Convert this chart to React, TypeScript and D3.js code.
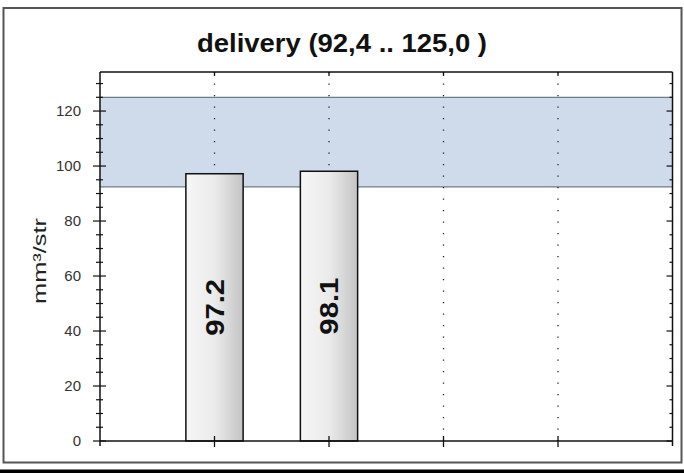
import React from "react";
import * as d3 from "d3";

const categories = [1, 2];
const values = [97.2, 98.1];
const valueLabels = ["97.2", "98.1"];
const bandRange = [92.4, 125.0];
const yTicks = [0, 20, 40, 60, 80, 100, 120];
const titleText = "delivery (92,4 .. 125,0 )";
const yLabel = "mm³/str";
const gridPositions = [1, 2, 3, 4];

export default function App() {
  const W = 684, H = 473;
  const left = 100, right = 672.5, top = 72, bottom = 441;
  const x = d3.scaleLinear().domain([0, 5]).range([left, right]);
  const y = d3.scaleLinear().domain([0, 134.2]).range([bottom, top]);
  const minor = d3.range(0, 135, 5);
  const barW = x(0.5) - x(0);
  const font = "Arial, 'Liberation Sans', sans-serif";

  return (
    <svg width={W} height={H} style={{ position: "absolute", left: 0, top: 0 }}>
      <defs>
        <linearGradient id="barGrad" x1="0" x2="1" y1="0" y2="0">
          <stop offset="0" stopColor="#f6f6f6" />
          <stop offset="0.5" stopColor="#ebebeb" />
          <stop offset="1" stopColor="#c4c4c4" />
        </linearGradient>
      </defs>
      <rect x={0} y={0} width={W} height={H} fill="#fff" />
      <rect x={3.5} y={8} width={678} height={454.5} fill="none" stroke="#555" strokeWidth={2} />
      <rect x={0} y={469.5} width={W} height={4} fill="#000" />
      <text x={342} y={52} textAnchor="middle" fontFamily={font} fontWeight="bold" fontSize={25} textLength={290} lengthAdjust="spacingAndGlyphs" fill="#111">{titleText}</text>

      {/* band */}
      <rect x={left} y={y(bandRange[1])} width={right - left} height={y(bandRange[0]) - y(bandRange[1])} fill="#cfdbeb" />
      <line x1={left} x2={right} y1={y(bandRange[1])} y2={y(bandRange[1])} stroke="#6f7c88" strokeWidth={1.2} />
      <line x1={left} x2={right} y1={y(bandRange[0])} y2={y(bandRange[0])} stroke="#6f7c88" strokeWidth={1.2} />

      {/* grid */}
      {gridPositions.map((g) => (
        <line key={g} x1={x(g)} x2={x(g)} y1={top} y2={bottom} stroke="#222" strokeWidth={1.3} strokeDasharray="1.3,10.2" />
      ))}

      {/* bars */}
      {categories.map((c, i) => (
        <g key={c}>
          <rect x={x(c) - barW / 2} y={y(values[i])} width={barW} height={y(0) - y(values[i])} fill="url(#barGrad)" stroke="#111" strokeWidth={1.5} />
          <text transform={`translate(${x(c) + 9},${(y(values[i]) + y(0)) / 2}) rotate(-90)`} textAnchor="middle" fontFamily={font} fontWeight="bold" fontSize={25} textLength={57} lengthAdjust="spacingAndGlyphs" fill="#111">{valueLabels[i]}</text>
        </g>
      ))}

      {/* frame */}
      <line x1={left} x2={right} y1={top} y2={top} stroke="#111" strokeWidth={1.5} />
      <line x1={right} x2={right} y1={top} y2={bottom + 5} stroke="#111" strokeWidth={1.5} />
      <line x1={left} x2={right} y1={bottom} y2={bottom} stroke="#111" strokeWidth={1.5} />
      <line x1={left} x2={left} y1={top} y2={bottom + 5} stroke="#111" strokeWidth={1.5} />

      {/* left / right ticks */}
      {minor.map((v) => {
        const major = v % 20 === 0;
        return (
          <g key={v}>
            <line x1={major ? left - 7 : left - 4} x2={major ? left + 6 : left + 3} y1={y(v)} y2={y(v)} stroke="#111" strokeWidth={1.2} />
            <line x1={right - (major ? 6 : 3)} x2={right} y1={y(v)} y2={y(v)} stroke="#111" strokeWidth={1.2} />
          </g>
        );
      })}
      {yTicks.map((v) => (
        <text key={v} x={81} y={y(v) + 5} textAnchor="end" fontFamily={font} fontSize={15} fill="#333">{v}</text>
      ))}

      {/* bottom / top ticks */}
      {gridPositions.map((g) => (
        <g key={g}>
          <line x1={x(g)} x2={x(g)} y1={bottom - 5} y2={bottom + 6} stroke="#111" strokeWidth={1.3} />
          <line x1={x(g)} x2={x(g)} y1={top} y2={top + 4} stroke="#111" strokeWidth={1.3} />
        </g>
      ))}

      <text transform={`translate(46,${261}) rotate(-90)`} textAnchor="middle" fontFamily={font} fontSize={18} textLength={86} lengthAdjust="spacingAndGlyphs" fill="#222">{yLabel}</text>
    </svg>
  );
}
